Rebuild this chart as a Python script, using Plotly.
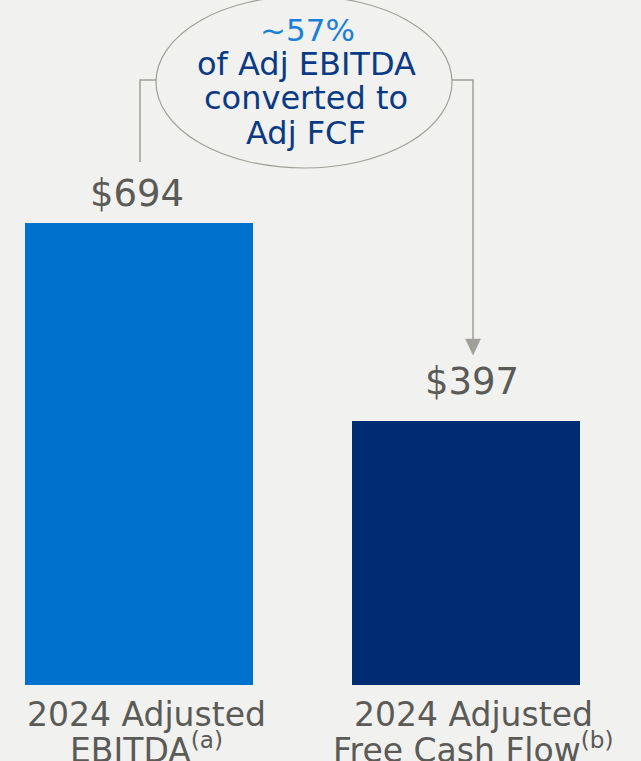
import plotly.graph_objects as go

# ---- data ----
categories = ["2024 Adjusted<br>EBITDA<sup>(a)</sup>",
              "2024 Adjusted<br>Free Cash Flow<sup>(b)</sup>"]
values = [694, 397]
value_labels = ["$694", "$397"]
callout_pct = "~57%"
callout_lines = ["of Adj EBITDA", "converted to", "Adj FCF"]

# ---- styling ----
W, H = 641, 761
PLOT_H = 685                      # plot area height (px); x-axis baseline at this row
BAR_COLORS = ["#0072CE", "#002D72"]
BG = "#F1F1EF"
GREY_TXT = "#5A5A57"
LINE_GREY = "#A0A098"
PCT_BLUE = "#1A7FD6"
NAVY_TXT = "#0B3A85"
FONT = "DejaVu Sans"
DESC = 0.236                      # DejaVu descent (em)

# x axis: category centres 327 px apart, first centre at 139 px
STEP = 327.0
X0 = -139.0 / STEP
X1 = X0 + W / STEP
Y_MAX = 694 / 462.0 * PLOT_H      # 462 px of bar for the first value


def xp(px):  # pixel column -> paper x
    return px / W


def yp(py):  # pixel row (from top) -> paper y
    return (PLOT_H - py) / PLOT_H


fig = go.Figure()
fig.add_trace(go.Bar(
    x=categories, y=values,
    marker=dict(color=BAR_COLORS, line=dict(width=0)),
    width=228 / STEP,
    hoverinfo="skip",
))

annotations = []


def text_line(text, x, xref, baseline_px, size, color, xshift=0):
    bottom = baseline_px + DESC * size + 1
    annotations.append(dict(
        text=text, x=x, xref=xref, y=0, yref="paper",
        yanchor="bottom", xanchor="center",
        yshift=PLOT_H - bottom, xshift=xshift,
        showarrow=False, font=dict(family=FONT, size=size, color=color),
    ))


# value labels above the bars
label_lift = [16, 25]
label_dx = [-2, 6]
for cat, val, lab, lift, dx in zip(categories, values, value_labels, label_lift, label_dx):
    top_px = PLOT_H - val / Y_MAX * PLOT_H
    text_line(lab, cat, "x", top_px - lift, 37, GREY_TXT, xshift=dx)

# category labels under the bars (two lines each)
for cat in categories:
    first, second = cat.split("<br>")
    text_line(first, cat, "x", 727, 33, GREY_TXT, xshift=7)
    text_line(second, cat, "x", 763, 33, GREY_TXT, xshift=7)

# callout text inside the ellipse
text_line(callout_pct, xp(307), "paper", 41.5, 31, PCT_BLUE)
for line, base in zip(callout_lines, [76.5, 110.5, 145]):
    text_line(line, xp(306), "paper", base, 32, NAVY_TXT)

shapes = [
    # ellipse around the callout
    dict(type="circle", xref="paper", yref="paper",
         x0=xp(156), x1=xp(452), y0=yp(168), y1=yp(-4),
         line=dict(color=LINE_GREY, width=1.2), fillcolor="rgba(0,0,0,0)"),
    # connector from first bar up to the ellipse
    dict(type="path", xref="paper", yref="paper",
         path=f"M{xp(140)},{yp(162)} L{xp(140)},{yp(80)} L{xp(156)},{yp(80)}",
         line=dict(color=LINE_GREY, width=1.5)),
    # connector from the ellipse down to the second bar
    dict(type="path", xref="paper", yref="paper",
         path=f"M{xp(452)},{yp(80)} L{xp(473)},{yp(80)} L{xp(473)},{yp(341)}",
         line=dict(color=LINE_GREY, width=1.5)),
    # arrow head
    dict(type="path", xref="paper", yref="paper",
         path=f"M{xp(465.5)},{yp(339)} L{xp(480.5)},{yp(339)} L{xp(473)},{yp(355)} Z",
         line=dict(color=LINE_GREY, width=0.5), fillcolor=LINE_GREY),
]

fig.update_layout(
    width=W, height=H,
    margin=dict(l=0, r=0, t=0, b=H - PLOT_H, pad=0),
    paper_bgcolor=BG, plot_bgcolor=BG,
    showlegend=False,
    bargap=0,
    xaxis=dict(range=[X0, X1], showticklabels=False, showgrid=False,
               zeroline=False, showline=False, ticks=""),
    yaxis=dict(range=[0, Y_MAX], showticklabels=False, showgrid=False,
               zeroline=False, showline=False, ticks=""),
    annotations=annotations,
    shapes=shapes,
)

fig.write_html("out.html")
